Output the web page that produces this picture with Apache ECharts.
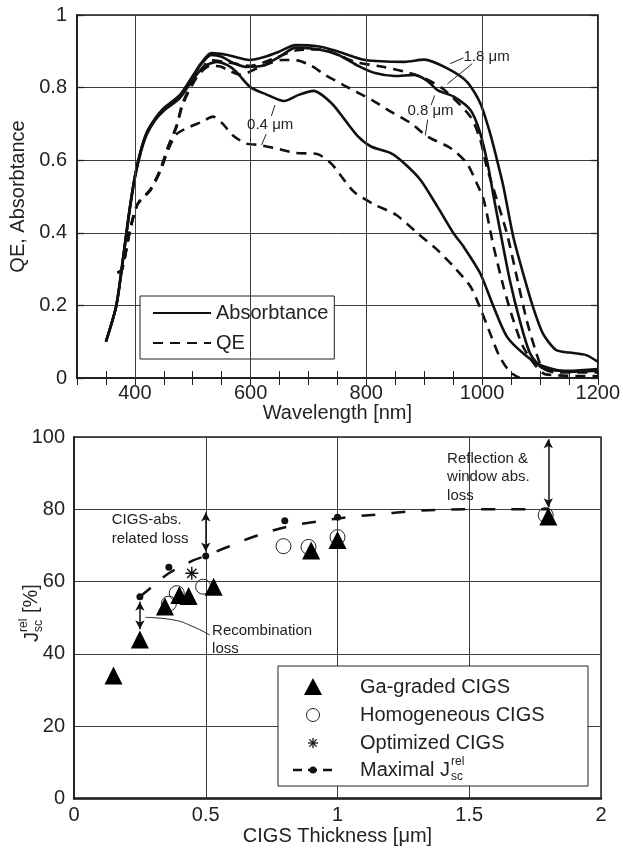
<!DOCTYPE html>
<html>
<head>
<meta charset="utf-8">
<script src="https://cdn.jsdelivr.net/npm/echarts@6/dist/echarts.min.js"></script>
<style>
  html, body { margin: 0; padding: 0; background: #fff; }
  #chart { width: 623px; height: 850px; }
</style>
</head>
<body>
<div id="chart"></div>
<script>
// ---------- Upper panel: absorbtance (solid) and QE (dashed) vs wavelength ----------
const wavelengthTicks = [400, 600, 800, 1000, 1200];
const wavelengthGrid = [400, 600, 800, 1000];
const thicknessLabels = ['0.4 \u03bcm', '0.8 \u03bcm', '1.8 \u03bcm'];

const absorb04 = [[350,0.10],[368,0.20],[380,0.33],[390,0.45],[400,0.55],[410,0.62],[421,0.672],[435,0.71],[449,0.735],[478,0.772],[500,0.822],[520,0.858],[541,0.871],[560,0.862],[575,0.844],[599,0.802],[626,0.782],[658,0.763],[683,0.78],[709,0.791],[740,0.757],[763,0.711],[786,0.665],[809,0.637],[843,0.619],[866,0.591],[894,0.545],[923,0.472],[951,0.398],[968,0.362],[997,0.288],[1020,0.196],[1043,0.114],[1071,0.068],[1100,0.036],[1151,0.017],[1200,0.02]];
const absorb08 = [[350,0.10],[368,0.20],[380,0.335],[390,0.455],[400,0.555],[410,0.625],[421,0.677],[435,0.713],[449,0.74],[478,0.778],[500,0.83],[515,0.865],[532,0.89],[550,0.885],[570,0.868],[592,0.857],[620,0.86],[650,0.885],[678,0.91],[718,0.905],[752,0.89],[786,0.86],[815,0.84],[849,0.832],[883,0.835],[906,0.818],[923,0.793],[951,0.775],[980,0.738],[997,0.674],[1011,0.58],[1020,0.5],[1031,0.408],[1048,0.27],[1065,0.16],[1083,0.068],[1105,0.027],[1150,0.02],[1200,0.025]];
const absorb18 = [[350,0.10],[368,0.20],[380,0.335],[390,0.455],[400,0.555],[410,0.625],[421,0.678],[435,0.715],[449,0.742],[478,0.78],[500,0.832],[515,0.868],[532,0.895],[560,0.89],[598,0.876],[625,0.885],[649,0.899],[678,0.917],[718,0.913],[752,0.899],[798,0.876],[866,0.871],[900,0.877],[940,0.853],[974,0.816],[997,0.757],[1014,0.674],[1026,0.6],[1037,0.527],[1054,0.389],[1071,0.288],[1088,0.196],[1105,0.123],[1128,0.077],[1151,0.07],[1180,0.063],[1200,0.045]];

const qe04 = [[370,0.29],[378,0.30],[392,0.41],[405,0.48],[427,0.518],[444,0.57],[458,0.63],[472,0.672],[495,0.692],[515,0.705],[535,0.72],[552,0.70],[569,0.669],[592,0.646],[615,0.642],[643,0.633],[678,0.62],[715,0.617],[740,0.59],[757,0.555],[780,0.511],[815,0.477],[852,0.449],[889,0.398],[920,0.357],[951,0.307],[980,0.252],[997,0.192],[1014,0.123],[1030,0.06],[1048,0.017],[1065,0.0]];
const qe08 = [[370,0.29],[378,0.30],[392,0.41],[405,0.48],[427,0.518],[444,0.573],[458,0.637],[472,0.692],[482,0.75],[495,0.795],[510,0.835],[530,0.86],[548,0.858],[565,0.845],[583,0.835],[615,0.856],[655,0.876],[680,0.875],[703,0.862],[729,0.835],[763,0.805],[809,0.766],[843,0.733],[877,0.702],[906,0.665],[946,0.633],[974,0.591],[991,0.536],[1003,0.49],[1020,0.362],[1037,0.252],[1054,0.16],[1071,0.086],[1094,0.031],[1110,0.01],[1200,0.005]];
const qe18 = [[370,0.29],[378,0.30],[392,0.41],[405,0.48],[427,0.52],[444,0.575],[458,0.64],[472,0.695],[482,0.755],[495,0.8],[510,0.84],[532,0.875],[560,0.87],[600,0.86],[640,0.88],[680,0.903],[720,0.905],[752,0.89],[780,0.871],[826,0.858],[866,0.844],[900,0.826],[934,0.795],[980,0.72],[997,0.656],[1008,0.582],[1020,0.52],[1043,0.398],[1060,0.279],[1077,0.16],[1094,0.068],[1105,0.027],[1130,0.015],[1200,0.015]];

// thickness labels: anchor [nm, value] and the two leader segments (to solid and dashed curve)
const labelAnchors = [[594,0.697],[871,0.736],[968,0.884]];
const labelLeaders = [
  [[[642,0.752],[636,0.722]], [[627,0.672],[619,0.642]]],
  [[[918,0.778],[912,0.752]], [[906,0.712],[902,0.668]]],
  [[[968,0.882],[945,0.866]], [[983,0.866],[940,0.81]]]
];

// ---------- Lower panel: relative Jsc vs CIGS thickness ----------
const thicknessTicks = [0, 0.5, 1, 1.5, 2];
const jscTicks = [0, 20, 40, 60, 80, 100];
const gaGraded = [[0.15,34],[0.25,44],[0.345,53.1],[0.40,56.3],[0.435,56.0],[0.53,58.6],[0.9,68.6],[1.0,71.5],[1.8,78.0]];
const homogeneous = [[0.36,53.9],[0.39,56.8],[0.49,58.6],[0.795,69.8],[0.89,69.6],[1.0,72.3],[1.79,78.4]];
const optimized = [[0.447,62.3]];
const maximalPoints = [[0.25,55.8],[0.36,64.0],[0.5,67.1],[0.8,76.8],[1.0,77.8]];
const maximalFit = [[0.25,55.8],[0.3,58.8],[0.36,62.3],[0.45,65.8],[0.5,67.1],[0.58,69.5],[0.69,72.6],[0.81,75.2],[0.92,76.6],[1.04,77.8],[1.17,78.7],[1.29,79.5],[1.4,79.9],[1.52,80],[1.8,80]];

// loss arrows [x, yFrom, yTo] and their captions
const lossArrows = [[0.25,46.8,54.4],[0.5,68.3,79.1],[1.8,80.6,99.4]];
const recombinationLeader = [[0.27,50.1],[0.377,49.4],[0.453,47.5],[0.516,45.2]];
const lossCaptions = [
  { text: 'Recombination\nloss', at: [0.524, 43.9] },
  { text: 'CIGS-abs.\nrelated loss', at: [0.143, 74.4] },
  { text: 'Reflection &\nwindow abs.\nloss', at: [1.416, 88.9] }
];
const legendNames = ['Ga-graded CIGS', 'Homogeneous CIGS', 'Optimized CIGS', 'Maximal J'];

const FONT = '"Liberation Sans", Arial, Helvetica, sans-serif';
const INK = '#222';
const GRIDC = '#3c3c3c';

// eight-armed asterisk marker
const ASTERISK = 'path://M8.9 0L11.1 0L11.1 20L8.9 20Z M0 8.9L20 8.9L20 11.1L0 11.1Z M2.1 3.6L3.6 2.1L17.9 16.4L16.4 17.9Z M16.4 2.1L17.9 3.6L3.6 17.9L2.1 16.4Z';

const solidStyle = { color: '#111', width: 2.6, type: 'solid' };
const dashStyle = { color: '#111', width: 2.6, type: [10, 7] };

function curve(name, data, style, extra) {
  return Object.assign({
    type: 'line', name: name, xAxisIndex: 0, yAxisIndex: 0,
    data: data, symbol: 'none', smooth: 0.25, lineStyle: style,
    itemStyle: { color: '#111' }, silent: true, z: 3
  }, extra || {});
}

const thinLine = { color: INK, width: 1, type: 'solid' };

const option = {
  animation: false,
  textStyle: { fontFamily: FONT, color: INK },
  grid: [
    { left: 76, top: 15, right: 21, bottom: 472, show: true, borderColor: '#222', borderWidth: 1.5, backgroundColor: 'transparent' },
    { left: 74, top: 437, right: 22, bottom: 51.5, show: true, borderColor: '#222', borderWidth: 1.5, backgroundColor: 'transparent' }
  ],
  legend: {
    data: ['Absorbtance', 'QE'],
    orient: 'vertical', left: 140, top: 296,
    padding: [7, 6, 6, 12], itemGap: 10, itemWidth: 58, itemHeight: 14,
    backgroundColor: '#fff', borderColor: '#222', borderWidth: 1, borderRadius: 0,
    itemStyle: { color: 'rgba(0,0,0,0)', borderWidth: 0, opacity: 0 },
    textStyle: { fontSize: 20, color: INK, fontFamily: FONT },
    selectedMode: false
  },
  xAxis: [
    {
      gridIndex: 0, type: 'value', min: 300, max: 1200, interval: 50,
      name: 'Wavelength [nm]', nameLocation: 'middle', nameGap: 24,
      nameTextStyle: { fontSize: 20, color: INK, fontFamily: FONT },
      axisLine: { show: true, lineStyle: { color: '#222', width: 2 } },
      axisTick: { show: true, inside: true, length: 7, lineStyle: { color: '#222', width: 1 } },
      axisLabel: { fontSize: 20, color: INK, margin: 5, fontFamily: FONT,
        formatter: v => wavelengthTicks.indexOf(v) >= 0 ? String(v) : '' },
      splitLine: { show: false }
    },
    {
      gridIndex: 0, type: 'value', position: 'top', min: 300, max: 1200, interval: 50,
      axisLine: { show: true, lineStyle: { color: '#222', width: 1.5 } },
      axisTick: { show: true, inside: true, length: 7, lineStyle: { color: '#222', width: 1 } },
      axisLabel: { show: false }, splitLine: { show: false }
    },
    {
      gridIndex: 1, type: 'value', min: 0, max: 2, interval: 0.5,
      name: 'CIGS Thickness [\u03bcm]', nameLocation: 'middle', nameGap: 25,
      nameTextStyle: { fontSize: 20, color: INK, fontFamily: FONT },
      axisLine: { show: true, lineStyle: { color: '#222', width: 2.5 } },
      axisTick: { show: false },
      axisLabel: { fontSize: 20, color: INK, margin: 7, fontFamily: FONT,
        formatter: v => thicknessTicks.indexOf(v) >= 0 ? String(v) : '' },
      splitLine: { show: true, lineStyle: { color: GRIDC, width: 1 } }
    }
  ],
  yAxis: [
    {
      gridIndex: 0, type: 'value', min: 0, max: 1, interval: 0.2,
      name: 'QE, Absorbtance', nameLocation: 'middle', nameGap: 49,
      nameTextStyle: { fontSize: 20, color: INK, fontFamily: FONT },
      axisLine: { show: true, lineStyle: { color: '#222', width: 2 } },
      axisTick: { show: true, inside: true, length: 7, lineStyle: { color: '#222', width: 1.3 } },
      axisLabel: { fontSize: 20, color: INK, margin: 10, fontFamily: FONT },
      splitLine: { show: true, lineStyle: { color: GRIDC, width: 1 } }
    },
    {
      gridIndex: 0, type: 'value', position: 'right', min: 0, max: 1, interval: 0.2,
      axisLine: { show: true, lineStyle: { color: '#222', width: 1.5 } },
      axisTick: { show: true, inside: true, length: 7, lineStyle: { color: '#222', width: 1.3 } },
      axisLabel: { show: false }, splitLine: { show: false }
    },
    {
      gridIndex: 1, type: 'value', min: 0, max: 100, interval: 20,
      axisLine: { show: true, lineStyle: { color: '#222', width: 2 } },
      axisTick: { show: false },
      axisLabel: { fontSize: 20, color: INK, margin: 9, fontFamily: FONT,
        formatter: v => jscTicks.indexOf(v) >= 0 ? String(v) : '' },
      splitLine: { show: true, lineStyle: { color: GRIDC, width: 1 } }
    }
  ],
  series: [
    curve('Absorbtance', absorb04, solidStyle, {
      markLine: {
        silent: true, symbol: ['none', 'none'], label: { show: false },
        lineStyle: { color: GRIDC, width: 1, type: 'solid' },
        data: wavelengthGrid.map(v => ({ xAxis: v }))
      }
    }),
    curve('Absorbtance', absorb08, solidStyle),
    curve('Absorbtance', absorb18, solidStyle, {
      markLine: {
        silent: true, symbol: ['none', 'none'], label: { show: false },
        lineStyle: thinLine,
        data: [].concat(...labelLeaders.map(pair => pair.map(seg => [{ coord: seg[0] }, { coord: seg[1] }])))
      }
    }),
    curve('QE', qe04, dashStyle),
    curve('QE', qe08, dashStyle),
    curve('QE', qe18, dashStyle),

    // lower panel
    {
      type: 'line', name: legendNames[3] + ' fit', xAxisIndex: 2, yAxisIndex: 2,
      data: maximalFit, symbol: 'none', smooth: 0.4, silent: true,
      lineStyle: { color: '#111', width: 2.5, type: [14, 16] }, z: 3,
      markLine: {
        silent: true, symbol: ['arrow', 'arrow'], symbolSize: [7, 9], label: { show: false },
        lineStyle: { color: '#111', width: 1.5, type: 'solid' },
        data: lossArrows.map(a => [{ coord: [a[0], a[1]] }, { coord: [a[0], a[2]] }])
      }
    },
    {
      type: 'line', name: 'leader', xAxisIndex: 2, yAxisIndex: 2,
      data: recombinationLeader, symbol: 'none', smooth: 0.5, silent: true,
      lineStyle: { color: INK, width: 1 }, z: 3
    },
    {
      type: 'scatter', name: legendNames[3], xAxisIndex: 2, yAxisIndex: 2,
      data: maximalPoints, symbol: 'circle', symbolSize: 7,
      itemStyle: { color: '#111', opacity: 1 }, z: 4
    },
    {
      type: 'scatter', name: legendNames[1], xAxisIndex: 2, yAxisIndex: 2,
      data: homogeneous, symbol: 'circle', symbolSize: 15,
      itemStyle: { color: 'rgba(255,255,255,0)', borderColor: '#222', borderWidth: 1, opacity: 1 }, z: 4
    },
    {
      type: 'scatter', name: legendNames[2], xAxisIndex: 2, yAxisIndex: 2,
      data: optimized, symbol: ASTERISK, symbolSize: 13,
      itemStyle: { color: '#111', opacity: 1 }, z: 5
    },
    {
      type: 'scatter', name: legendNames[0], xAxisIndex: 2, yAxisIndex: 2,
      data: gaGraded, symbol: 'triangle', symbolSize: 18,
      itemStyle: { color: '#000', opacity: 1 }, z: 6
    }
  ]
};

const chart = echarts.init(document.getElementById('chart'), null, { renderer: 'canvas' });
chart.setOption(option);

// text that sits on the panels, placed through the axes
const topPx = p => chart.convertToPixel({ seriesIndex: 0 }, p);
const botPx = p => chart.convertToPixel({ seriesIndex: 6 }, p);

const measure = (() => {
  const ctx = document.createElement('canvas').getContext('2d');
  return (txt, size) => { ctx.font = size + 'px ' + FONT; return ctx.measureText(txt).width; };
})();

const graphics = [];

thicknessLabels.forEach((t, i) => {
  const p = topPx(labelAnchors[i]);
  graphics.push({ type: 'text', x: p[0], y: p[1], z: 10, silent: true,
    style: { text: t, font: '15px ' + FONT, fill: INK, align: 'left', verticalAlign: 'middle' } });
});

lossCaptions.forEach(c => {
  const p = botPx(c.at);
  graphics.push({ type: 'text', x: p[0], y: p[1], z: 10, silent: true,
    style: { text: c.text, font: '15px ' + FONT, fill: INK, align: 'left', verticalAlign: 'middle', lineHeight: 18.5 } });
});

// y-axis title of the lower panel: J with stacked rel / sc indices
graphics.push({
  type: 'group', x: 31, y: 613, rotation: Math.PI / 2, silent: true,
  children: [
    { type: 'text', x: -29, y: 1, style: { text: 'J', font: '20px ' + FONT, fill: INK, verticalAlign: 'middle' } },
    { type: 'text', x: -19, y: -7, style: { text: 'rel', font: '12px ' + FONT, fill: INK, verticalAlign: 'middle' } },
    { type: 'text', x: -19, y: 8, style: { text: 'sc', font: '12px ' + FONT, fill: INK, verticalAlign: 'middle' } },
    { type: 'text', x: 0, y: 0, style: { text: '[%]', font: '20px ' + FONT, fill: INK, verticalAlign: 'middle' } }
  ]
});

// legend box of the lower panel
const LX = 278, LY = 666, LW = 310, LH = 120;
const iconX = 313, textX = 360;
const rows = [687, 715, 743, 770];
const legendChildren = [
  { type: 'rect', shape: { x: LX, y: LY, width: LW, height: LH }, style: { fill: '#fff', stroke: '#222', lineWidth: 1 } },
  { type: 'polygon', shape: { points: [[iconX, rows[0] - 9], [iconX + 9, rows[0] + 8], [iconX - 9, rows[0] + 8]] }, style: { fill: '#000' } },
  { type: 'circle', shape: { cx: iconX, cy: rows[1], r: 6.5 }, style: { fill: 'none', stroke: '#222', lineWidth: 1 } },
  { type: 'line', shape: { x1: iconX - 5, y1: rows[2], x2: iconX + 5, y2: rows[2] }, style: { stroke: '#111', lineWidth: 1.3 } },
  { type: 'line', shape: { x1: iconX, y1: rows[2] - 5, x2: iconX, y2: rows[2] + 5 }, style: { stroke: '#111', lineWidth: 1.3 } },
  { type: 'line', shape: { x1: iconX - 3.6, y1: rows[2] - 3.6, x2: iconX + 3.6, y2: rows[2] + 3.6 }, style: { stroke: '#111', lineWidth: 1.3 } },
  { type: 'line', shape: { x1: iconX + 3.6, y1: rows[2] - 3.6, x2: iconX - 3.6, y2: rows[2] + 3.6 }, style: { stroke: '#111', lineWidth: 1.3 } },
  { type: 'line', shape: { x1: iconX - 20, y1: rows[3], x2: iconX + 22, y2: rows[3] }, style: { stroke: '#111', lineWidth: 2.5, lineDash: [9, 6] } },
  { type: 'circle', shape: { cx: iconX, cy: rows[3], r: 3.5 }, style: { fill: '#111' } }
];
legendNames.forEach((n, i) => {
  legendChildren.push({ type: 'text', x: textX, y: rows[i], style: { text: n, font: '20px ' + FONT, fill: INK, verticalAlign: 'middle' } });
});
const jEnd = textX + measure(legendNames[3], 20) + 1;
legendChildren.push({ type: 'text', x: jEnd, y: rows[3] - 8, style: { text: 'rel', font: '12px ' + FONT, fill: INK, verticalAlign: 'middle' } });
legendChildren.push({ type: 'text', x: jEnd, y: rows[3] + 7, style: { text: 'sc', font: '12px ' + FONT, fill: INK, verticalAlign: 'middle' } });
graphics.push({ type: 'group', silent: true, z: 20, children: legendChildren });

chart.setOption({ graphic: graphics });
</script>
</body>
</html>
